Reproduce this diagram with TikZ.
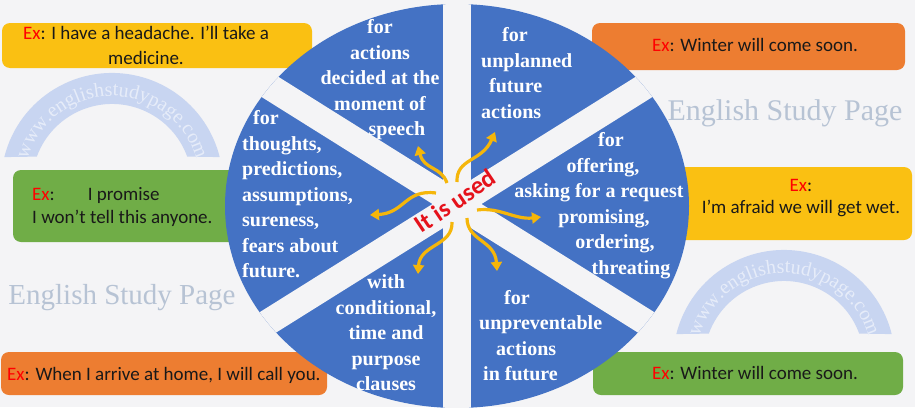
\documentclass[tikz,border=0pt]{standalone}
\usepackage{fontspec}
\setmainfont{Liberation Serif}
\newfontfamily\calibri{Carlito}
\newfontfamily\goudyish{Liberation Serif}
\usetikzlibrary{arrows.meta,decorations.text}
\definecolor{bgc}{HTML}{F4F4F6}
\definecolor{pieblue}{HTML}{4472C4}
\definecolor{boxyellow}{HTML}{FAC012}
\definecolor{boxgreen}{HTML}{70AD47}
\definecolor{boxorange}{HTML}{ED7D31}
\definecolor{exred}{HTML}{FF0000}
\definecolor{arrowyellow}{HTML}{F5B60A}
\definecolor{wmblue}{HTML}{C8D5F1}
\definecolor{wmarctext}{HTML}{E6ECF9}
\definecolor{wmtext}{HTML}{B7C3D4}
\definecolor{usedred}{HTML}{E5121B}
\newcommand{\exlabel}{\textcolor{exred}{Ex}:}
\begin{document}
\begin{tikzpicture}[x=1pt,y=-1pt,
  exbox/.style={rounded corners=8pt},
  extext/.style={font=\calibri\fontsize{19}{23}\selectfont, text=black!90, inner sep=0pt},
  sectortext/.style={font=\goudyish\bfseries\fontsize{20}{25.5}\selectfont, text=white, inner sep=0pt},
  arr/.style={draw=arrowyellow, line width=3.2pt, -{Triangle[length=9pt,width=11pt]}},
  wm/.style={font=\goudyish\fontsize{30}{30}\selectfont, text=wmtext, inner sep=0pt},
  wmarc/.style={fill=wmblue}]
\fill[bgc] (0,0) rectangle (915,407);
\useasboundingbox (0,0) rectangle (915,407);

% watermark arcs
\fill[wmarc] (4.3,157.1) arc[start angle=194,end angle=346,radius=111] -- (187.2,156.6) arc[start angle=340,end angle=200,radius=80] -- cycle;
\path[decorate, decoration={text along path, text={|\goudyish\fontsize{20}{20}\selectfont|www.englishstudypage.com}, text align=center, text color=wmarctext}]
  (25.9,165.7) arc[start angle=192,end angle=348,radius=88];
\fill[wmarc] (676.3,334.1) arc[start angle=194,end angle=346,radius=111] -- (859.2,333.6) arc[start angle=340,end angle=200,radius=80] -- cycle;
\path[decorate, decoration={text along path, text={|\goudyish\fontsize{20}{20}\selectfont|www.englishstudypage.com}, text align=center, text color=wmarctext}]
  (697.9,342.7) arc[start angle=192,end angle=348,radius=88];

\node[wm, font=\goudyish\fontsize{29}{29}\selectfont] (wm1) at (122,298) {English Study Page};
\node[wm] (wm2) at (785,113) {English Study Page};

% example boxes
\fill[boxyellow, exbox] (2,23) rectangle (312,68);
\fill[boxgreen, exbox] (13,170) rectangle (320,242);
\fill[boxorange, exbox] (1,352) rectangle (327,395);
\fill[boxorange, exbox] (592,23) rectangle (905,70);
\fill[boxyellow, exbox] (640,167) rectangle (912,240);
\fill[boxgreen, exbox] (593,352) rectangle (903,395);

\node[extext, font=\calibri\fontsize{19}{25}\selectfont, align=center] (t1) at (146,45.5) {\exlabel{} I have a headache. I’ll take a\\medicine.};
\node[extext, align=left, anchor=west] (t2) at (32,206.5) {\exlabel\hspace*{33pt}I promise\\I won’t tell this anyone.};
\node[extext, anchor=west] (t3) at (7,375) {\exlabel{} When I arrive at home, I will call you.};
\node[extext] (t4) at (755,45) {\exlabel{} Winter will come soon.};
\node[extext, font=\calibri\fontsize{19}{22}\selectfont, align=center] (t5) at (801,198) {\exlabel\\I’m afraid we will get wet.};
\node[extext] (t6) at (755,373) {\exlabel{} Winter will come soon.};

% pie
\fill[pieblue] (457,206) ellipse[x radius=232, y radius=202];
\begin{scope}
\clip (457,206) ellipse[x radius=232, y radius=202];
\draw[bgc, line width=28pt] (457,-10) -- (457,420);
\draw[bgc, line width=26pt] (203,45) -- (711,363);
\draw[bgc, line width=26pt] (203,363) -- (711,45);
\end{scope}

\node[sectortext, align=center] (s1) at (380,80) {for\\actions\\decided at the\\moment of\\\hspace*{34pt}speech};
\node[sectortext, align=left, anchor=west] (s2) at (481,73) {\hspace*{21pt}for\\unplanned\\\hspace*{8pt}future\\actions};
\node[sectortext, align=left, anchor=west] (s3) at (242,194.5) {\hspace*{11pt}for\\thoughts,\\predictions,\\assumptions,\\sureness,\\fears about\\future.};
\node[sectortext, align=center] (s4) at (599,205.5) {\hspace*{24pt}for\\\hspace*{8pt}offering,\\asking for a request\\\hspace*{10pt}promising,\\\hspace*{32pt}ordering,\\\hspace*{64pt}threating};
\node[sectortext, align=center] (s5) at (386,333) {with\\conditional,\\time and\\purpose\\clauses};
\node[sectortext, align=left, anchor=west] (s6) at (479,335.5) {\hspace*{25pt}for\\unpreventable\\\hspace*{17pt}actions\\\hspace*{4pt}in future};

% centre label
\node[font=\calibri\bfseries\fontsize{25}{25}\selectfont, text=usedred, rotate=34, inner sep=0pt] (used) at (455,201) {It is used};

% arrows
\coordinate (a1s) at (447,183); \coordinate (a1e) at (418,146);
\coordinate (a2s) at (457,182); \coordinate (a2e) at (495,132);
\coordinate (a3s) at (436,193); \coordinate (a3e) at (370,215);
\coordinate (a4s) at (477,210); \coordinate (a4e) at (541,217);
\coordinate (a5s) at (452,222); \coordinate (a5e) at (418,274);
\coordinate (a6s) at (467,218); \coordinate (a6e) at (497,271);
\draw[arr] (a1s) .. controls (441,166) and (424,170) .. (a1e);
\draw[arr] (a2s) .. controls (456,158) and (482,162) .. (a2e);
\draw[arr] (a3s) .. controls (405,189) and (405,213) .. (a3e);
\draw[arr] (a4s) .. controls (500,207) and (515,220) .. (a4e);
\draw[arr] (a5s) .. controls (453,246) and (420,244) .. (a5e);
\draw[arr] (a6s) .. controls (467,241) and (495,240) .. (a6e);
\end{tikzpicture}
\end{document}
